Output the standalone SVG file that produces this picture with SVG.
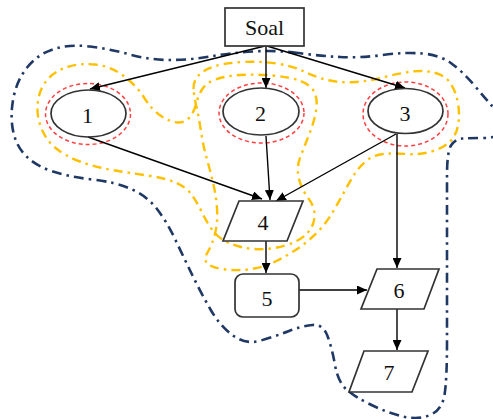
<svg xmlns="http://www.w3.org/2000/svg" width="493" height="419" viewBox="0 0 493 419">
<defs>
<marker id="ah" markerUnits="userSpaceOnUse" markerWidth="11" markerHeight="9" refX="10" refY="4.5" orient="auto">
<path d="M0,0 L10,4.5 L0,9 z" fill="#000"/>
</marker>
<style>
.navy{fill:none;stroke:#1F3864;stroke-width:2.6;stroke-dasharray:10 5 2.5 5;stroke-linejoin:round}
.yel{fill:none;stroke:#FFC000;stroke-width:2.4;stroke-dasharray:9 5 2.5 5;stroke-linejoin:round}
.red{fill:none;stroke:#FF4040;stroke-width:1.5;stroke-dasharray:4 3}
.shape{fill:#fff;stroke:#333;stroke-width:1.7}
.oval{fill:none;stroke:#333;stroke-width:1.7}
.conn{fill:none;stroke:#000;stroke-width:1.4;marker-end:url(#ah)}
.lbl{font-family:"Liberation Serif","Times New Roman",serif;font-size:22px;fill:#111;text-anchor:middle}
</style>
</defs>
<rect width="493" height="419" fill="#fff"/>
<g id="regions">
<path id="navy-region" class="navy" d="M298,53 Q276,50 253,51.5 Q230,53 210,56.5 Q190,60 170,60 Q150,60 130,54.5 Q110,49 90,46.5 Q70,44 54,49 Q38,54 27.5,67 Q17,80 13.5,97.5 Q10,115 13,130.5 Q16,146 26,156 Q36,166 53,171.5 Q70,177 92.5,179.5 Q115,182 131,189 Q147,196 157,209 Q167,222 175.5,240 Q184,258 192.5,275.5 Q201,293 210.5,309.5 Q220,326 233,335.5 Q246,345 261,340.5 Q276,336 289,331 Q302,326 312.5,325 Q323,324 327.5,336 Q332,348 335,365 Q338,382 346.5,389.5 Q355,397 371.5,405 Q388,413 403,416.5 Q418,420 430,415 Q442,410 444.5,395 Q447,380 447,340 Q447,300 447,250 Q447,200 447,176 Q447,152 451,145.5 Q455,139 462.5,138.5 Q470,138 485,138 Q500,138 500,126.5 Q500,115 492.5,106.5 Q485,98 474,85 Q463,72 451.5,63.5 Q440,55 422.5,53.5 Q405,52 382.5,55 Q360,58 340,57 Q320,56 298,53 Z"/>
<path id="yellow-region-a" class="yel" d="M67.5,67 Q80,63 95,64.5 Q110,66 123,75.5 Q136,85 144,97.5 Q152,110 161,116 Q170,122 177.5,122.5 Q185,123 189.5,117.5 Q194,112 196,104 Q198,96 202,89.5 Q206,83 215.5,79.5 Q225,76 240,75 Q255,74 272.5,75.5 Q290,77 300.5,81 Q311,85 314.5,92.5 Q318,100 316,111 Q314,122 309.5,133.5 Q305,145 300.5,156.5 Q296,168 299,179 Q302,190 308.5,198.5 Q315,207 314.5,216.5 Q314,226 307,233.5 Q300,241 285,245.5 Q270,250 255,249 Q240,248 229,243 Q218,238 212,229.5 Q206,221 201.5,211.5 Q197,202 191.5,194.5 Q186,187 175.5,182.5 Q165,178 147.5,175.5 Q130,173 112.5,170 Q95,167 80,161.5 Q65,156 55,147.5 Q45,139 40.5,126 Q36,113 38,100.5 Q40,88 47.5,79.5 Q55,71 67.5,67 Z"/>
<path id="yellow-region-b" class="yel" d="M193.5,89 Q193,82 198,76 Q203,70 214,66.5 Q225,63 242.5,62 Q260,61 276.5,63.5 Q293,66 304,71.5 Q315,77 327.5,80 Q340,83 355,82 Q370,81 385,77 Q400,73 412.5,71.5 Q425,70 435.5,73 Q446,76 451,84 Q456,92 458,103.5 Q460,115 458,125.5 Q456,136 449.5,142 Q443,148 431.5,151.5 Q420,155 406.5,154 Q393,153 383,154 Q373,155 365.5,161.5 Q358,168 353,176.5 Q348,185 343,194 Q338,203 332.5,212.5 Q327,222 318.5,231 Q310,240 300,247 Q290,254 277.5,260.5 Q265,267 251.5,269 Q238,271 225.5,269.5 Q213,268 208,264 Q203,260 207.5,252.5 Q212,245 215,233.5 Q218,222 217,208.5 Q216,195 213,182.5 Q210,170 206.5,157.5 Q203,145 201,131.5 Q199,118 196.5,107 Q194,96 193.5,89 Z"/>
<ellipse class="red" cx="88" cy="114" rx="42.5" ry="30.5"/>
<ellipse class="red" cx="261.5" cy="113" rx="42.5" ry="30"/>
<ellipse class="red" cx="405.5" cy="114" rx="42.5" ry="32"/>
</g>
<g id="connectors">
<path class="conn" d="M265,46 L90,89"/>
<path class="conn" d="M266,46 L266,88"/>
<path class="conn" d="M267,46 L405,88"/>
<path class="conn" d="M88,137 L262,199"/>
<path class="conn" d="M266,136 L270,200"/>
<path class="conn" d="M396,134 L276,201"/>
<path class="conn" d="M397,134 L397,268"/>
<path class="conn" d="M266,241 L266,273"/>
<path class="conn" d="M298,290 L367,290"/>
<path class="conn" d="M397,309 L397,350"/>
</g>
<g id="soal"><rect class="shape" x="225" y="8" width="79" height="38"/><text class="lbl" x="264.5" y="35">Soal</text></g>
<g id="n1"><ellipse class="oval" cx="88.5" cy="113.5" rx="37.5" ry="23.5"/><text class="lbl" x="87.5" y="123">1</text></g>
<g id="n2"><ellipse class="oval" cx="261" cy="111.5" rx="38" ry="23.5"/><text class="lbl" x="260.5" y="121">2</text></g>
<g id="n3"><ellipse class="oval" cx="405.5" cy="111" rx="37.5" ry="22.5"/><text class="lbl" x="405" y="121">3</text></g>
<g id="n4"><polygon class="shape" points="239,201 303,201 287,241 223,241"/><text class="lbl" x="263" y="230">4</text></g>
<g id="n5"><rect class="shape" x="235" y="274" width="64" height="43" rx="8"/><text class="lbl" x="267" y="306">5</text></g>
<g id="n6"><polygon class="shape" points="377,269 439,269 424,309 361,309"/><text class="lbl" x="399" y="298">6</text></g>
<g id="n7"><polygon class="shape" points="364,351 428,351 412,392 349,392"/><text class="lbl" x="389" y="380">7</text></g>
</svg>
